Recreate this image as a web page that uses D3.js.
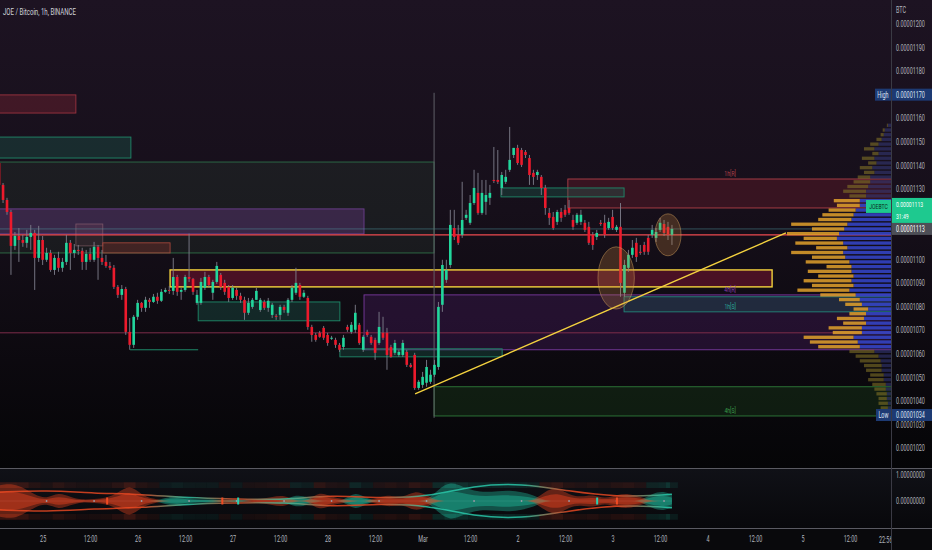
<!DOCTYPE html>
<html>
<head>
<meta charset="utf-8">
<script src="https://cdn.jsdelivr.net/npm/d3@7/dist/d3.min.js"></script>
<style>
html,body{margin:0;padding:0;background:#000;overflow:hidden}
svg{display:block}
</style>
</head>
<body>
<svg id="chart" width="932" height="550"></svg>
<script>
// ================= DATA (prices in 1e-8 BTC, hours from 2022-03-01 00:00 UTC) =================
const firstBarHour = -107;
const openP = [
1141.0,1131.7,1125.3,1120.2,1105.8,1110.0,1108.3,1107.1,1109.6,1111.3,
1100.7,1108.3,1099.9,1102.8,1095.6,1100.7,1096.5,1099.0,1107.1,1102.8,
1104.1,1103.7,1099.0,1102.4,1099.9,1105.4,1100.7,1099.0,1097.3,1096.5,
1088.4,1085.0,1087.5,1069.3,1063.8,1075.7,1081.6,1079.5,1082.9,1082.0,
1084.2,1082.5,1086.3,1087.1,1086.7,1092.6,1086.3,1087.1,1092.6,1091.8,
1081.6,1081.6,1088.0,1092.6,1085.9,1090.5,1093.5,1090.1,1088.4,1083.7,
1087.1,1084.6,1082.9,1077.4,1079.9,1082.9,1078.6,1082.0,1079.5,1076.5,
1076.1,1076.5,1079.9,1077.4,1082.9,1085.9,1089.2,1084.2,1083.7,1071.4,
1068.0,1068.9,1071.0,1068.0,1066.8,1065.9,1063.8,1062.9,1071.4,1069.3,
1070.2,1072.3,1061.7,1069.3,1067.2,1065.9,1064.6,1068.9,1068.9,1062.9,
1060.4,1059.5,1059.5,1060.8,1055.3,1059.5,1045.5,1046.8,1047.7,1048.1,
1051.1,1054.4,1080.8,1091.4,1097.7,1113.4,1110.5,1110.5,1117.7,1115.6,
1124.0,1128.3,1119.8,1124.5,1126.2,1133.8,1133.8,1130.4,1133.0,1138.1,
1144.4,1147.4,1146.5,1145.7,1143.1,1136.8,1135.9,1135.1,1130.4,1119.8,
1118.1,1116.0,1120.2,1121.1,1121.9,1116.8,1115.6,1116.0,1115.6,1113.9,
1110.5,1109.6,1115.6,1115.6,1113.4,1118.1,1112.6,1113.9,1085.9,1096.5,
1102.0,1107.1,1103.3,1106.2,1109.2,1110.5,1109.2,1112.6,1115.1,1113.9,
1110.5];
const highP = [
1143.1,1132.5,1126.2,1121.1,1111.7,1113.4,1110.5,1112.6,1114.7,1112.6,
1114.3,1110.0,1105.0,1104.1,1102.0,1103.3,1100.7,1110.5,1108.3,1106.6,
1106.2,1105.0,1104.1,1105.0,1107.5,1106.2,1104.1,1102.0,1099.0,1097.7,
1089.2,1089.2,1088.4,1075.2,1076.5,1082.9,1082.0,1084.2,1083.7,1085.4,
1085.9,1087.5,1088.0,1088.8,1100.7,1093.5,1088.0,1093.5,1111.0,1092.2,
1087.1,1092.2,1094.8,1093.5,1091.4,1099.0,1094.3,1091.4,1089.2,1089.2,
1088.0,1085.9,1084.2,1083.7,1083.7,1088.0,1083.7,1082.9,1083.7,1081.6,
1076.9,1080.8,1080.8,1083.7,1089.2,1096.5,1090.1,1087.1,1084.6,1072.3,
1068.9,1069.7,1071.8,1068.9,1067.6,1066.8,1064.6,1068.0,1072.3,1073.5,
1080.8,1073.1,1068.0,1070.2,1068.0,1066.8,1077.8,1075.7,1071.0,1063.8,
1065.9,1061.7,1065.9,1061.7,1056.1,1060.4,1048.9,1052.3,1057.4,1053.2,
1057.4,1082.0,1099.9,1099.9,1121.1,1121.1,1114.7,1133.0,1121.1,1127.4,
1138.1,1136.8,1133.8,1133.8,1131.7,1147.8,1146.5,1137.2,1138.1,1156.3,
1147.4,1148.7,1147.4,1146.5,1144.4,1138.1,1138.1,1135.9,1131.7,1121.9,
1120.2,1121.1,1121.9,1123.2,1125.3,1119.0,1119.8,1121.1,1116.8,1116.0,
1111.7,1112.6,1116.8,1119.0,1117.7,1121.1,1114.7,1124.0,1099.9,1104.1,
1108.3,1109.2,1106.2,1107.5,1110.5,1114.7,1113.4,1117.7,1116.8,1116.0,
1114.7];
const lowP = [
1129.6,1124.0,1119.0,1093.5,1104.1,1099.0,1105.4,1105.0,1104.1,1087.1,
1099.0,1097.7,1099.0,1094.8,1093.5,1094.8,1094.8,1097.7,1095.6,1100.7,
1102.0,1095.6,1095.6,1099.0,1099.0,1091.4,1097.7,1096.5,1095.6,1087.5,
1083.7,1082.9,1068.0,1061.7,1062.5,1074.4,1077.8,1077.8,1079.5,1081.6,
1081.2,1082.0,1085.9,1085.4,1085.0,1084.6,1082.9,1086.3,1090.5,1085.0,
1080.8,1080.8,1087.1,1088.0,1082.9,1089.7,1087.1,1085.0,1082.0,1082.9,
1082.9,1081.6,1074.4,1076.5,1079.1,1082.9,1077.8,1078.6,1077.8,1075.2,
1074.4,1074.4,1077.4,1076.1,1082.0,1085.0,1082.9,1083.7,1070.2,1065.1,
1065.1,1066.8,1065.9,1063.4,1065.9,1062.5,1060.8,1061.7,1069.3,1068.5,
1068.9,1063.8,1060.8,1067.2,1063.8,1057.4,1063.8,1065.9,1053.2,1058.3,
1059.5,1058.7,1058.7,1054.4,1054.0,1044.7,1044.7,1045.5,1046.0,1047.2,
1050.2,1053.2,1077.8,1090.1,1096.5,1108.3,1106.2,1109.2,1116.8,1114.7,
1123.2,1119.0,1119.0,1119.0,1123.2,1132.5,1132.1,1127.4,1132.1,1137.2,
1143.1,1140.2,1139.3,1143.1,1131.7,1131.7,1133.8,1127.4,1119.0,1114.7,
1112.6,1114.7,1116.0,1118.1,1119.0,1112.6,1114.7,1114.7,1111.7,1106.2,
1104.1,1108.3,1114.3,1109.2,1112.6,1112.6,1111.7,1084.2,1084.2,1094.8,
1100.7,1099.0,1102.0,1102.0,1102.0,1109.2,1107.5,1111.7,1110.0,1108.3,
1106.2];
const closeP = [
1131.7,1125.3,1120.2,1105.8,1110.0,1108.3,1107.1,1109.6,1111.3,1100.7,
1108.3,1099.9,1102.8,1095.6,1100.7,1096.5,1099.0,1107.1,1102.8,1104.1,
1103.7,1099.0,1102.4,1099.9,1105.4,1100.7,1099.0,1097.3,1096.5,1088.4,
1085.0,1087.5,1069.3,1063.8,1075.7,1081.6,1079.5,1082.9,1082.0,1084.2,
1082.5,1086.3,1087.1,1086.7,1092.6,1086.3,1087.1,1092.6,1091.8,1086.3,
1085.0,1090.5,1092.6,1089.2,1090.5,1097.3,1088.4,1086.3,1083.7,1088.0,
1084.6,1082.9,1077.4,1081.6,1082.9,1086.7,1082.9,1079.5,1082.5,1080.8,
1075.7,1079.9,1078.6,1082.9,1088.0,1090.1,1084.2,1085.9,1071.4,1068.0,
1065.9,1067.2,1066.8,1064.6,1066.8,1063.8,1061.7,1066.8,1070.2,1072.3,
1077.4,1064.6,1067.2,1068.0,1064.6,1060.4,1071.4,1066.8,1059.5,1058.7,
1064.6,1060.8,1064.6,1055.3,1054.4,1045.5,1048.1,1050.2,1054.4,1051.1,
1055.3,1079.9,1097.7,1095.6,1114.7,1109.6,1107.1,1116.8,1119.0,1124.0,
1130.4,1119.8,1128.3,1127.4,1128.3,1133.4,1133.0,1135.9,1135.1,1142.3,
1147.4,1141.0,1140.2,1144.4,1135.9,1135.1,1137.2,1130.4,1121.9,1117.7,
1113.4,1120.2,1117.7,1119.0,1119.8,1113.9,1119.0,1119.0,1112.6,1107.1,
1106.2,1111.3,1115.1,1110.5,1116.0,1113.4,1113.9,1090.1,1097.7,1102.0,
1105.0,1101.1,1102.8,1103.3,1103.3,1112.6,1111.7,1115.6,1111.3,1110.5,
1113.0];

const priceTicks = [1020,1030,1040,1050,1060,1070,1080,1090,1100,1110,1120,1130,1140,1150,1160,1170,1180,1190,1200];
const hiddenTicks = [1110,1120,1170]; // covered by price tags in the reference
const timeTickHours = [-96,-84,-72,-60,-48,-36,-24,-12,0,12,24,36,48,60,72,84,96,108];
const timeTickLabels = ["25","12:00","26","12:00","27","12:00","28","12:00","Mar","12:00","2","12:00","3","12:00","4","12:00","5","12:00"];

// zones: time span (hours), price span, kind
const zones = [
  {t0:-112, t1:-73.7, hi:1152.0, lo:1143.1, kind:'green'},
  {t0:-112, t1:-87.6, hi:1169.9, lo:1162.2, kind:'red'},
  {t0:-112, t1:2.9,   hi:1141.4, lo:1102.8, kind:'olive'},
  {t0:-112, t1:-14.8, hi:1121.5, lo:1110.9, kind:'purple'},
  {t0:-87.6, t1:-80.8, hi:1115.1, lo:1105.8, kind:'ghost'},
  {t0:-80.8, t1:-63.8, hi:1107.1, lo:1102.8, kind:'rust'},
  {t0:-56.7, t1:-20.9, hi:1082.0, lo:1074.0, kind:'green'},
  {t0:-14.8, t1:130,   hi:1085.0, lo:1061.7, kind:'violet', label:'4h[R]'},
  {t0:36.7,  t1:130,   hi:1134.2, lo:1121.9, kind:'maroon', label:'1h[R]'},
  {t0:19.8,  t1:50.9,  hi:1130.4, lo:1126.6, kind:'green'},
  {t0:50.9,  t1:130,   hi:1084.2, lo:1077.8, kind:'teal', label:'1h[S]'},
  {t0:-20.9, t1:20.1,  hi:1062.1, lo:1058.7, kind:'green'},
  {t0:2.9,   t1:130,   hi:1046.0, lo:1033.6, kind:'forest', label:'4h[S]'},
  {t0:-63.8, t1:88.3,  hi:1095.6, lo:1088.4, kind:'yellow'}
];
const zoneLabelHour = 77.7;
const levelPrice = [1113.0, 1110.5, 1068.9];
const levelKind = ['last','red','pink'];
const shortLineHours = [-73.9, -56.7];
const shortLinePrice = 1061.7;
const vLineHour = 2.9;
const vLinePrice = [1170.8, 1032.8];
const trendHour = [-1.9, 91.8];
const trendPrice = [1043.0, 1111.3];
const circleHour = [48.9, 62.0];
const circlePrice = [1092.2, 1110.5];
const circleHalfHours = [4.6, 3.3];
const circleHalfPrice = [13.2, 8.9];

// volume profile (2-unit bins)
const vpPrice = [1157,1155,1153,1151,1149,1147,1145,1143,1141,1139,1137,1135,1133,1131,1129,1127,1125,1123,1121,1119,1117,1115,1113,1111,1109,1107,1105,1103,1101,1099,1097,1095,1093,1091,1089,1087,1085,1083,1081,1079,1077,1075,1073,1071,1069,1067,1065,1063,1061,1059,1057,1055,1053,1051,1049,1047,1045,1043,1041,1039,1037,1035];
const vpUp   = [3,6,7,9,12,16,12,16,14,18,16,20,20,22,24,24,30,30,34,36,38,42,45,50,52,46,42,46,44,40,38,38,36,38,36,40,34,30,28,22,24,26,24,28,28,36,32,30,16,12,10,9,9,7,7,5,5,4,4,3,3,3];
const vpDown = [1,2,3,5,8,10,6,12,8,12,10,12,16,20,22,16,25,22,26,30,32,54,31,50,32,46,30,50,32,42,24,42,34,46,40,50,34,20,16,14,16,26,22,32,28,48,46,40,24,22,20,17,15,13,15,13,11,10,8,9,7,5];
const valueArea = [1061.7, 1125.3];

// oscillator pane
const oscHour = [-107,-104,-101,-98,-95,-92,-89,-86,-83,-80,-77,-74,-71,-68,-65,-62,-59,-56,-53,-50,-47,-44,-41,-38,-35,-32,-29,-26,-23,-20,-17,-14,-11,-8,-5,-2,1,4,7,10,13,16,19,22,25,28,31,34,37,40,43,46,49,52,55,58,61,63];
const oscValue = [-0.6,-0.68,-0.53,-0.23,-0.08,-0.34,-0.15,-0.04,-0.08,-0.11,-0.3,-0.64,-0.23,-0.08,0.11,0.23,0.08,0.06,0.08,-0.08,0.08,-0.04,-0.08,-0.15,-0.23,0.26,0.15,-0.38,-0.15,-0.08,0.38,0.08,-0.15,-0.23,-0.11,-0.41,-0.23,0.45,0.75,0.56,0.38,0.34,0.38,0.41,0.34,0.23,-0.38,-0.56,-0.23,-0.15,-0.26,-0.08,-0.23,-0.3,-0.15,0.3,0.38,0.23];
const sigHour = [-107,-95,-83,-71,-59,-47,-35,-23,-11,1,13,25,37,49,61,63];
const sigValue = [-0.34,-0.41,-0.3,-0.26,0.11,-0.08,0.04,-0.23,-0.11,0.15,0.6,0.68,-0.38,-0.15,0.23,0.26];
const oscMarkHour = [-79.7,-50.6,-46.6,44.1,49.1];
const oscMarkSign = [-1,-1,1,1,-1];

// ================= LAYOUT =================
const W = 932, H = 550;
const PLOT_R = 891, MAIN_B = 468, IND_T = 469, IND_B = 528;
const BAR_PX = 3.958, MAR_X = 422.6;
const GREEN = '#22d69c', RED = '#ec1a2c', TEAL = '#1fb89a', ORANGE_RED = '#e8431f';
const FONT = 'Roboto, "Liberation Sans", "DejaVu Sans", sans-serif';
const SQ = 0.64;

const svg = d3.select('#chart');
const defs = svg.append('defs');
const base = Date.UTC(2022, 2, 1);
const HOUR = 3600e3;
const x = d3.scaleUtc()
  .domain([new Date(base - MAR_X / BAR_PX * HOUR), new Date(base + (PLOT_R - MAR_X) / BAR_PX * HOUR)])
  .range([0, PLOT_R]);
const tx = h => x(new Date(base + h * HOUR));
const y = d3.scaleLinear().domain([1020, 1200]).range([448, 24]);
const oscY = d3.scaleLinear().domain([0, 1]).range([501, 475]);
const amp = v => oscY(0) - oscY(Math.abs(v));

function squeeze(sel, k) {
  sel.each(function () {
    const t = d3.select(this);
    const x0 = +(t.attr('x') || 0);
    t.attr('x', x0 / k).attr('transform', `scale(${k},1)`);
  });
}
function vgrad(id, stops, y1, y2) {
  const g = defs.append('linearGradient').attr('id', id).attr('gradientUnits', 'userSpaceOnUse')
    .attr('x1', 0).attr('x2', 0).attr('y1', y1).attr('y2', y2);
  stops.forEach(s => g.append('stop').attr('offset', s[0]).attr('stop-color', s[1]));
}
vgrad('bgMain', [[0, '#1d1322'], [0.45, '#160f1a'], [1, '#050507']], 0, MAIN_B);
vgrad('bgInd', [[0, '#101117'], [1, '#08080b']], IND_T, IND_B);
defs.append('clipPath').attr('id', 'clipMain').append('rect').attr('x', 0).attr('y', 0).attr('width', PLOT_R).attr('height', MAIN_B);
defs.append('clipPath').attr('id', 'clipInd').append('rect').attr('x', 0).attr('y', IND_T).attr('width', PLOT_R).attr('height', IND_B - IND_T);
defs.append('clipPath').attr('id', 'clipTime').append('rect').attr('x', 0).attr('y', IND_B).attr('width', PLOT_R).attr('height', H - IND_B);

svg.append('rect').attr('width', W).attr('height', MAIN_B).attr('fill', 'url(#bgMain)');
svg.append('rect').attr('y', MAIN_B).attr('width', W).attr('height', H - MAIN_B).attr('fill', '#09090c');
svg.append('rect').attr('y', IND_T).attr('width', W).attr('height', IND_B - IND_T).attr('fill', 'url(#bgInd)');

// ================= MAIN PANE =================
const gMain = svg.append('g').attr('clip-path', 'url(#clipMain)');

const zoneStyle = {
  red:    {fill: 'rgba(150,40,55,0.32)',  stroke: '#9b3340', text: '#b0404a'},
  green:  {fill: 'rgba(30,110,90,0.30)',  stroke: '#1f8a6a', text: '#2aa28a'},
  olive:  {fill: 'rgba(45,70,55,0.24)',   stroke: '#2f6e48', text: '#3b9a4a'},
  purple: {fill: 'rgba(110,60,140,0.36)', stroke: '#6d3f8e', text: '#9040b0'},
  ghost:  {fill: 'rgba(150,90,100,0.16)', stroke: 'rgba(170,120,130,0.5)', text: '#aaa'},
  rust:   {fill: 'rgba(140,55,45,0.35)',  stroke: '#a0453a', text: '#a0453a'},
  violet: {fill: 'rgba(80,30,110,0.32)',  stroke: '#7a3aa0', text: '#8a3cb0'},
  maroon: {fill: 'rgba(110,30,45,0.38)',  stroke: '#b04048', text: '#b2404a'},
  teal:   {fill: 'rgba(30,90,90,0.35)',   stroke: '#22867a', text: '#2aa89a'},
  forest: {fill: 'rgba(25,55,25,0.45)',   stroke: '#2f7c3a', text: '#3b9a4a'},
  yellow: {fill: 'rgba(120,20,50,0.55)',  stroke: '#f3d23c', text: '#f3d23c'}
};

gMain.selectAll('rect.zone').data(zones).join('rect').attr('class', 'zone')
  .attr('x', d => tx(d.t0)).attr('width', d => tx(d.t1) - tx(d.t0))
  .attr('y', d => y(d.hi)).attr('height', d => y(d.lo) - y(d.hi))
  .attr('fill', d => zoneStyle[d.kind].fill)
  .attr('stroke', d => zoneStyle[d.kind].stroke)
  .attr('stroke-width', d => d.kind === 'yellow' ? 1.4 : 0.9);

const levelStyle = {last: ['rgba(80,150,160,0.55)', 0.9], red: ['#ee4a4f', 1.2], pink: ['#7d2c4a', 1]};
gMain.selectAll('line.level').data(levelPrice).join('line').attr('class', 'level')
  .attr('x1', 0).attr('x2', PLOT_R).attr('y1', d => y(d)).attr('y2', d => y(d))
  .attr('stroke', (d, i) => levelStyle[levelKind[i]][0]).attr('stroke-width', (d, i) => levelStyle[levelKind[i]][1]);
gMain.append('line').attr('x1', tx(shortLineHours[0])).attr('x2', tx(shortLineHours[1]))
  .attr('y1', y(shortLinePrice)).attr('y2', y(shortLinePrice)).attr('stroke', '#1f8a6a').attr('stroke-width', 1);
gMain.append('line').attr('x1', tx(vLineHour)).attr('x2', tx(vLineHour))
  .attr('y1', y(vLinePrice[0])).attr('y2', y(vLinePrice[1])).attr('stroke', '#5f5f68').attr('stroke-width', 1);

gMain.selectAll('text.zl').data(zones.filter(z => z.label)).join('text').attr('class', 'zl')
  .attr('x', tx(zoneLabelHour)).attr('text-anchor', 'middle')
  .attr('y', d => d.label.indexOf('[R]') > 0 ? y(d.hi) - 3 : y(d.lo) - 2.5)
  .attr('fill', d => zoneStyle[d.kind].text)
  .attr('font-family', FONT).attr('font-size', 8)
  .text(d => d.label);
squeeze(gMain.selectAll('text.zl'), SQ);

// volume profile
const vpW = d3.scaleLinear().domain([0, 100]).range([0, 104]);
const binH = y(0) - y(2);
const vp = vpPrice.map((p, i) => ({p, up: vpUp[i], dn: vpDown[i], inVA: p >= valueArea[0] && p <= valueArea[1]}));
const gVP = gMain.append('g');
gVP.selectAll('rect.up').data(vp).join('rect').attr('class', 'up')
  .attr('x', d => PLOT_R - vpW(d.up)).attr('width', d => vpW(d.up))
  .attr('y', d => y(d.p + 1) + 0.7).attr('height', binH - 1.4)
  .attr('fill', d => d.inVA ? '#3546cc' : '#363b7c').attr('opacity', d => d.inVA ? 0.85 : 0.55);
gVP.selectAll('rect.dn').data(vp).join('rect').attr('class', 'dn')
  .attr('x', d => PLOT_R - vpW(d.up + d.dn)).attr('width', d => vpW(d.dn))
  .attr('y', d => y(d.p + 1) + 0.7).attr('height', binH - 1.4)
  .attr('fill', d => d.inVA ? '#e2a12c' : '#8a7a28').attr('opacity', d => d.inVA ? 0.85 : 0.55);

gMain.append('line').attr('x1', tx(trendHour[0])).attr('y1', y(trendPrice[0]))
  .attr('x2', tx(trendHour[1])).attr('y2', y(trendPrice[1]))
  .attr('stroke', '#f4d23f').attr('stroke-width', 1.4);

// candles
const bars = openP.map((o, i) => ({h: firstBarHour + i, o, hi: highP[i], lo: lowP[i], c: closeP[i]}));
const bw = (tx(1) - tx(0)) * 0.66;
const gC = gMain.append('g');
gC.selectAll('line.wick').data(bars).join('line').attr('class', 'wick')
  .attr('x1', d => tx(d.h)).attr('x2', d => tx(d.h))
  .attr('y1', d => y(d.hi)).attr('y2', d => y(d.lo))
  .attr('stroke', '#7f7f8c').attr('stroke-width', 0.9);
gC.selectAll('rect.body').data(bars).join('rect').attr('class', 'body')
  .attr('x', d => tx(d.h) - bw / 2).attr('width', bw)
  .attr('y', d => y(Math.max(d.o, d.c)))
  .attr('height', d => Math.max(1, Math.abs(y(d.o) - y(d.c))))
  .attr('fill', d => d.c >= d.o ? GREEN : RED);

gMain.selectAll('ellipse.mark').data(circleHour).join('ellipse').attr('class', 'mark')
  .attr('cx', d => tx(d)).attr('cy', (d, i) => y(circlePrice[i]))
  .attr('rx', (d, i) => tx(d + circleHalfHours[i]) - tx(d))
  .attr('ry', (d, i) => y(circlePrice[i] - circleHalfPrice[i]) - y(circlePrice[i]))
  .attr('fill', 'rgba(200,130,60,0.26)').attr('stroke', 'rgba(215,165,95,0.45)').attr('stroke-width', 1);

// ================= INDICATOR PANE =================
const gInd = svg.append('g').attr('clip-path', 'url(#clipInd)');
const osc = oscHour.map((h, i) => ({h, v: oscValue[i]}));
[-1, 1].forEach(side => {
  gInd.selectAll('rect.heat' + (side > 0 ? 'b' : 't')).data(osc).join('rect')
    .attr('class', 'heat' + (side > 0 ? 'b' : 't'))
    .attr('x', d => tx(d.h - 1.5)).attr('width', tx(3) - tx(0))
    .attr('y', side < 0 ? oscY(0.72) : oscY(0) + amp(0.5))
    .attr('height', amp(0.22))
    .attr('fill', d => d.v >= 0 ? TEAL : ORANGE_RED)
    .attr('opacity', d => 0.05 + 0.25 * Math.abs(d.v));
});
gInd.append('line').attr('x1', tx(firstBarHour)).attr('x2', tx(oscHour[oscHour.length - 1]))
  .attr('y1', oscY(0)).attr('y2', oscY(0)).attr('stroke', 'rgba(150,150,160,0.35)').attr('stroke-width', 0.8);
function blob(sign, scaleK, op) {
  const area = d3.area().curve(d3.curveBasis)
    .x(d => tx(d.h))
    .y0(d => oscY(0) - amp(Math.max(sign * d.v, 0)) * scaleK)
    .y1(d => oscY(0) + amp(Math.max(sign * d.v, 0)) * scaleK);
  gInd.append('path').datum(osc).attr('d', area)
    .attr('fill', sign > 0 ? TEAL : ORANGE_RED).attr('opacity', op);
}
blob(1, 1, 0.4); blob(-1, 1, 0.4);
blob(1, 0.55, 0.45); blob(-1, 0.55, 0.45);
const sg = defs.append('linearGradient').attr('id', 'sigGrad').attr('gradientUnits', 'userSpaceOnUse')
  .attr('x1', 0).attr('x2', PLOT_R).attr('y1', 0).attr('y2', 0);
sigHour.forEach((h, i) => sg.append('stop').attr('offset', Math.max(0, tx(h) / PLOT_R))
  .attr('stop-color', sigValue[i] >= 0 ? '#2ad0b0' : '#f04a22'));
const sig = sigHour.map((h, i) => ({h, v: sigValue[i]}));
[-1, 1].forEach(side => {
  const ln = d3.line().curve(d3.curveBasis).x(d => tx(d.h)).y(d => oscY(0) + side * amp(d.v));
  gInd.append('path').datum(sig).attr('d', ln).attr('fill', 'none')
    .attr('stroke', 'url(#sigGrad)').attr('stroke-width', 1.5).attr('opacity', 0.8);
});
gInd.selectAll('circle.dot').data(osc.filter((d, i) => i % 4 === 0)).join('circle').attr('class', 'dot')
  .attr('cx', d => tx(d.h)).attr('cy', oscY(0)).attr('r', 0.9).attr('fill', '#9a9aa6');
gInd.selectAll('rect.mk').data(oscMarkHour).join('rect').attr('class', 'mk')
  .attr('x', d => tx(d) - 1).attr('width', 2)
  .attr('y', oscY(0) - 3.5).attr('height', 7)
  .attr('fill', (d, i) => oscMarkSign[i] > 0 ? '#2ad0b0' : '#f04a22');

svg.append('line').attr('x1', 0).attr('x2', W).attr('y1', MAIN_B + 0.5).attr('y2', MAIN_B + 0.5).attr('stroke', '#5a5a62');
svg.append('line').attr('x1', 0).attr('x2', W).attr('y1', IND_B + 0.5).attr('y2', IND_B + 0.5).attr('stroke', '#5a5a62');
svg.append('line').attr('x1', PLOT_R + 0.5).attr('x2', PLOT_R + 0.5).attr('y1', 0).attr('y2', H).attr('stroke', '#3a3a44');

// ================= AXES =================
const axR = svg.append('g').attr('transform', `translate(${PLOT_R},0)`)
  .call(d3.axisRight(y).tickValues(priceTicks.filter(v => hiddenTicks.indexOf(v) < 0))
    .tickFormat(v => (v * 1e-8).toFixed(8)).tickSize(0).tickPadding(5));
axR.select('.domain').remove();
axR.attr('font-family', FONT).attr('font-size', 8.5);
axR.selectAll('text').attr('fill', '#b2b5be');
squeeze(axR.selectAll('text'), SQ);

const axI = svg.append('g').attr('transform', `translate(${PLOT_R},0)`)
  .call(d3.axisRight(oscY).tickValues([0, 1]).tickFormat(d3.format('.8f')).tickSize(0).tickPadding(5));
axI.select('.domain').remove();
axI.attr('font-family', FONT).attr('font-size', 8.5);
axI.selectAll('text').attr('fill', '#b2b5be');
squeeze(axI.selectAll('text'), SQ);

const timeWrap = svg.append('g').attr('clip-path', 'url(#clipTime)');
const axB = timeWrap.append('g').attr('transform', `translate(0,${IND_B})`)
  .call(d3.axisBottom(x).tickValues(timeTickHours.map(h => new Date(base + h * HOUR)))
    .tickFormat((d, i) => timeTickLabels[i]).tickSize(0).tickPadding(8));
axB.select('.domain').remove();
axB.attr('font-family', FONT).attr('font-size', 8.5);
axB.selectAll('text').attr('fill', '#b2b5be');
squeeze(axB.selectAll('text'), SQ);
const clk = timeWrap.append('text')
  .attr('x', tx(117.0)).attr('y', IND_B + 15.5).attr('text-anchor', 'middle')
  .attr('font-family', FONT).attr('font-size', 8.5).attr('fill', '#b2b5be').text('22:56');
squeeze(clk, SQ);

// ================= LABELS =================
const title = svg.append('text').attr('x', 3).attr('y', 15).attr('fill', '#d1d4dc')
  .attr('font-family', FONT).attr('font-size', 9.5).text('JOE / Bitcoin, 1h, BINANCE');
squeeze(title, SQ);
const btc = svg.append('text').attr('x', 896).attr('y', 13).attr('fill', '#b2b5be')
  .attr('font-family', FONT).attr('font-size', 8.5).text('BTC');
squeeze(btc, SQ);

function priceTag(p, name, bg, fg, nameW) {
  const cy = y(p);
  const g = svg.append('g');
  if (name) {
    g.append('rect').attr('x', PLOT_R - nameW).attr('y', cy - 6).attr('width', nameW).attr('height', 12).attr('fill', bg);
    squeeze(g.append('text').attr('x', PLOT_R - nameW / 2).attr('y', cy + 3).attr('text-anchor', 'middle')
      .attr('font-family', FONT).attr('font-size', 8.5).attr('fill', fg).text(name), SQ);
  }
  g.append('rect').attr('x', PLOT_R + 1).attr('y', cy - 6).attr('width', W - PLOT_R - 1).attr('height', 12).attr('fill', bg);
  squeeze(g.append('text').attr('x', PLOT_R + 5).attr('y', cy + 3)
    .attr('font-family', FONT).attr('font-size', 8.5).attr('fill', fg).text((p * 1e-8).toFixed(8)), SQ);
}
priceTag(1170, 'High', '#1d3a73', '#dfe6f5', 16);
priceTag(1034, 'Low', '#1d3a73', '#dfe6f5', 15);
priceTag(closeP[closeP.length - 1], null, '#4d4f57', '#ffffff', 0);

(function () {
  const p = closeP[closeP.length - 1];
  const top = y(p) - 31;
  const g = svg.append('g');
  g.append('rect').attr('x', PLOT_R - 25).attr('y', top + 2).attr('width', 25).attr('height', 13).attr('fill', '#1ec98f');
  squeeze(g.append('text').attr('x', PLOT_R - 12.5).attr('y', top + 11.5).attr('text-anchor', 'middle')
    .attr('font-family', FONT).attr('font-size', 8).attr('fill', '#0b2b20').text('JOEBTC'), SQ);
  g.append('rect').attr('x', PLOT_R + 1).attr('y', top).attr('width', W - PLOT_R - 1).attr('height', 25).attr('fill', '#1ec98f');
  squeeze(g.append('text').attr('x', PLOT_R + 5).attr('y', top + 9)
    .attr('font-family', FONT).attr('font-size', 8).attr('fill', '#ffffff').text((p * 1e-8).toFixed(8)), SQ);
  squeeze(g.append('text').attr('x', PLOT_R + 5).attr('y', top + 21)
    .attr('font-family', FONT).attr('font-size', 8).attr('fill', '#ffffff').text('31:49'), SQ);
})();
</script>
</body>
</html>
